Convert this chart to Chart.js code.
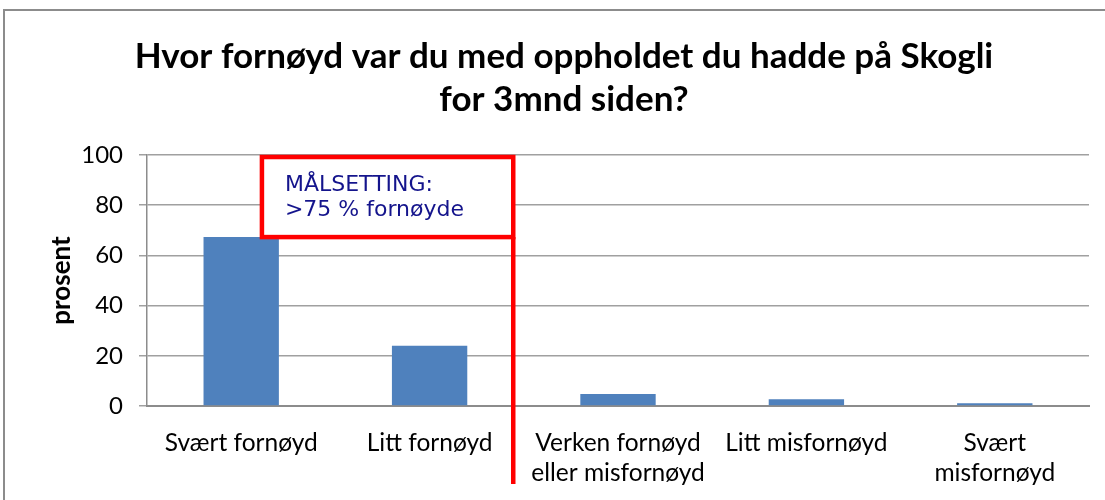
<!DOCTYPE html>
<html>
<head>
<meta charset="utf-8">
<script src="https://cdn.jsdelivr.net/npm/chart.js@4.4.1/dist/chart.umd.min.js"></script>
<style>
  html, body { margin: 0; padding: 0; background: #fff; }
  #wrap { width: 1105px; height: 500px; }
</style>
</head>
<body>
<div id="wrap"><canvas id="chart" width="1105" height="500"></canvas></div>
<script>
const categories = [
  'Svært fornøyd',
  'Litt fornøyd',
  ['Verken fornøyd', 'eller misfornøyd'],
  'Litt misfornøyd',
  ['Svært', 'misfornøyd']
];
const prosent = [67.3, 24, 4.8, 2.7, 1.1];
const yTicks = [0, 20, 40, 60, 80, 100];
const titleLines = ['Hvor fornøyd var du med oppholdet du hadde på Skogli', 'for 3mnd siden?'];
const goalLines = ['MÅLSETTING:', '>75 % fornøyde'];

const FONT = 'Lato, "Open Sans", sans-serif';

// frame, title, and the goal box with the red divider line
const goalBox = {
  id: 'goalBox',
  beforeDraw(chart) {
    const ctx = chart.ctx;
    ctx.save();
    ctx.strokeStyle = '#8c8c8c';
    ctx.lineWidth = 2;
    ctx.strokeRect(4, 10, 1200, 600);

    ctx.fillStyle = '#000';
    ctx.font = 'bold 35px ' + FONT;
    ctx.textAlign = 'center';
    ctx.textBaseline = 'alphabetic';
    ctx.fillText(titleLines[0], 564, 68);
    ctx.fillText(titleLines[1], 564, 111);
    ctx.restore();
  },
  afterDatasetsDraw(chart) {
    const { ctx, scales: { x, y } } = chart;
    const x0 = x.getPixelForValue(0);
    const step = x.getPixelForValue(1) - x0;
    const lineX = x0 + step * 1.444;
    const left = x0 + step * 0.11;
    const top = y.getPixelForValue(99.2);
    const bottom = y.getPixelForValue(67.3);

    ctx.save();
    ctx.fillStyle = '#fff';
    ctx.fillRect(left, top, lineX - left, bottom - top);
    ctx.strokeStyle = '#ff0000';
    ctx.lineWidth = 4.5;
    ctx.strokeRect(left, top, lineX - left, bottom - top);
    ctx.beginPath();
    ctx.moveTo(lineX, bottom);
    ctx.lineTo(lineX, 484);
    ctx.stroke();

    ctx.fillStyle = '#14148c';
    ctx.font = '22px "DejaVu Sans", sans-serif';
    ctx.textBaseline = 'alphabetic';
    ctx.fillText(goalLines[0], left + 23, top + 34);
    ctx.fillText(goalLines[1], left + 23, top + 59);
    ctx.restore();
  }
};

new Chart(document.getElementById('chart'), {
  type: 'bar',
  data: {
    labels: categories,
    datasets: [{
      label: 'prosent',
      data: prosent,
      backgroundColor: '#4f81bd',
      barPercentage: 0.4,
      categoryPercentage: 1
    }]
  },
  options: {
    responsive: false,
    animation: false,
    layout: { padding: { top: 155, right: 16, bottom: 0, left: 0 } },
    plugins: {
      legend: { display: false },
      tooltip: { enabled: false },
      title: { display: false }
    },
    scales: {
      x: {
        grid: { display: false },
        border: { display: true, color: '#8c8c8c', width: 2 },
        ticks: {
          color: '#000',
          font: { family: FONT, size: 24.5, lineHeight: 1.22 },
          padding: 14,
          maxRotation: 0,
          autoSkip: false
        },
        afterFit(scale) { scale.height = 94; }
      },
      y: {
        min: 0,
        max: 100,
        afterBuildTicks(scale) { scale.ticks = yTicks.map(v => ({ value: v })); },
        grid: { color: '#a0a0a0', lineWidth: 1.5, tickLength: 8 },
        border: { display: true, color: '#8c8c8c', width: 1.5 },
        ticks: {
          color: '#000',
          font: { family: FONT, size: 24 },
          padding: 16
        },
        title: {
          display: true,
          text: 'prosent',
          color: '#000',
          font: { family: FONT, size: 26, weight: 'bold' },
          padding: { top: 46, bottom: 0 }
        },
        afterFit(scale) { scale.width = 147; }
      }
    }
  },
  plugins: [goalBox]
});
</script>
</body>
</html>
